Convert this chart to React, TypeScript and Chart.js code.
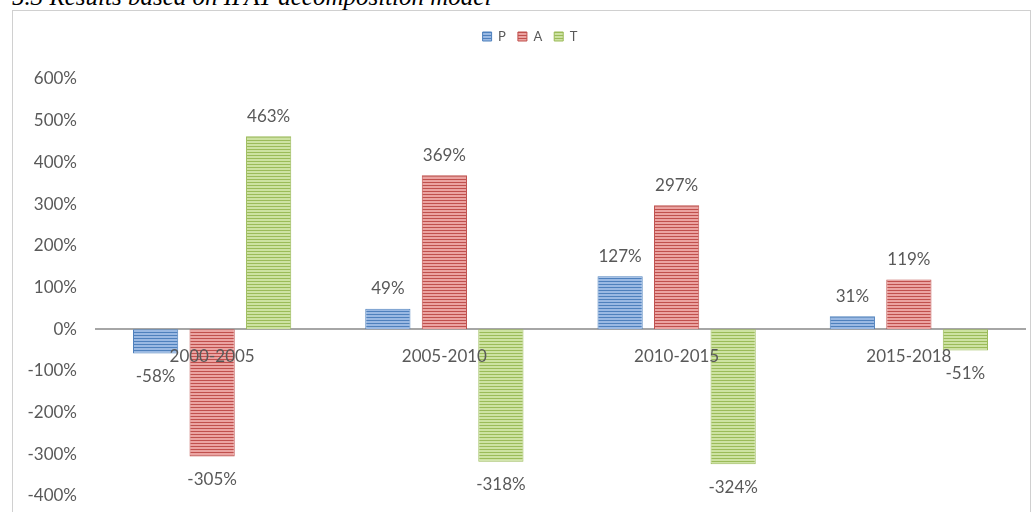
import React, { useEffect, useRef } from "react";
import { Chart, registerables } from "chart.js";

Chart.register(...registerables);

const categories = ["2000-2005", "2005-2010", "2010-2015", "2015-2018"];
const pValues = [-58, 49, 127, 31];
const aValues = [-305, 369, 297, 119];
const tValues = [463, -318, -324, -51];
const yTickValues = [-400, -300, -200, -100, 0, 100, 200, 300, 400, 500, 600];
const seriesNames = ["P", "A", "T"];

const FONT = "Lato, 'Open Sans', sans-serif";
const TEXT_COLOR = "#595959";

function stripePattern(dark: string, light: string): CanvasPattern | string {
  const c = document.createElement("canvas");
  c.width = 4;
  c.height = 3;
  const ctx = c.getContext("2d");
  if (!ctx) return dark;
  ctx.fillStyle = light;
  ctx.fillRect(0, 0, 4, 3);
  ctx.fillStyle = dark;
  ctx.fillRect(0, 0, 4, 1);
  const p = ctx.createPattern(c, "repeat");
  return p || dark;
}

const dataLabelPlugin = {
  id: "dataLabels",
  afterDatasetsDraw(chart: any) {
    const ctx = chart.ctx;
    ctx.save();
    ctx.font = `17px ${FONT}`;
    ctx.fillStyle = TEXT_COLOR;
    ctx.textAlign = "center";
    ctx.textBaseline = "middle";
    chart.data.datasets.forEach((ds: any, di: number) => {
      const meta = chart.getDatasetMeta(di);
      meta.data.forEach((bar: any, i: number) => {
        const v = ds.data[i];
        const y = v >= 0 ? bar.y - 20 : bar.y + 23;
        ctx.fillText(`${v}%`, bar.x, y);
      });
    });
    ctx.restore();
  },
};

// nudges the legend horizontally so it sits where the original legend sits
const legendShiftPlugin = {
  id: "legendShift",
  afterLayout(chart: any) {
    const lg = chart.legend;
    if (lg) {
      lg.left += 9;
      lg.right += 9;
      if (lg.legendHitBoxes) lg.legendHitBoxes.forEach((h: any) => (h.left += 9));
    }
  },
};

export default function App() {
  const canvasRef = useRef<HTMLCanvasElement | null>(null);

  useEffect(() => {
    const canvas = canvasRef.current;
    if (!canvas) return;
    const colors = [
      { dark: "#4F81BD", light: "#9ab9e3" },
      { dark: "#C0504D", light: "#eba3a1" },
      { dark: "#9BBB59", light: "#cde2a2" },
    ];
    const values = [pValues, aValues, tValues];
    const chart = new Chart(canvas, {
      type: "bar",
      data: {
        labels: categories,
        datasets: seriesNames.map((name, i) => ({
          label: name,
          data: values[i],
          backgroundColor: stripePattern(colors[i].dark, colors[i].light) as any,
          borderColor: colors[i].dark,
          borderWidth: 1,
          categoryPercentage: 0.73,
          barPercentage: 0.8,
        })),
      },
      options: {
        animation: false,
        responsive: false,
        devicePixelRatio: 1,
        layout: { padding: { left: 4, right: 5, top: 7, bottom: 16 } },
        plugins: {
          legend: {
            display: true,
            position: "top",
            labels: {
              boxWidth: 9,
              boxHeight: 9,
              padding: 12,
              color: TEXT_COLOR,
              font: { family: FONT, size: 13 },
            },
          },
          title: {
            display: true,
            text: "",
            weight: 500,
            position: "top",
            font: { size: 10, lineHeight: 1 },
            padding: { top: 16, bottom: 0 },
          } as any,
          tooltip: { enabled: false },
        },
        scales: {
          x: {
            position: { y: 0 } as any,
            grid: { display: false, drawTicks: false },
            border: { display: true, color: "#a6a6a6", width: 2 },
            ticks: {
              z: 1,
              color: TEXT_COLOR,
              font: { family: FONT, size: 17 },
              padding: 17,
            },
          },
          y: {
            min: -400,
            max: 600,
            grid: { display: false, drawTicks: false },
            border: { display: false },
            ticks: {
              color: TEXT_COLOR,
              font: { family: FONT, size: 17 },
              padding: 19,
              callback: (v: any) => `${v}%`,
            },
            afterBuildTicks: (s: any) => {
              s.ticks = yTickValues.map((v) => ({ value: v }));
            },
            afterFit: (s: any) => {
              s.width = 79;
              s.paddingTop = 0;
              s.paddingBottom = 0;
            },
          },
        },
      },
      plugins: [dataLabelPlugin, legendShiftPlugin],
    });
    return () => chart.destroy();
  }, []);

  return (
    <div style={{ position: "absolute", left: 0, top: 0, width: 1032, height: 512, overflow: "hidden", background: "#fff" }}>
      <div
        style={{
          position: "absolute",
          left: 12,
          top: -15,
          fontFamily: "'Liberation Serif', 'Times New Roman', serif",
          fontStyle: "italic",
          fontSize: 25,
          lineHeight: "24px",
          whiteSpace: "nowrap",
          color: "#000",
        }}
      >
        5.3 Results based on IPAT decomposition model
      </div>
      <div
        style={{
          position: "absolute",
          left: 12,
          top: 10,
          width: 1019,
          height: 510,
          boxSizing: "border-box",
          border: "1px solid #d0d0d0",
          background: "#fff",
        }}
      >
        <canvas ref={canvasRef} width={1017} height={501} style={{ display: "block" }} />
      </div>
    </div>
  );
}
